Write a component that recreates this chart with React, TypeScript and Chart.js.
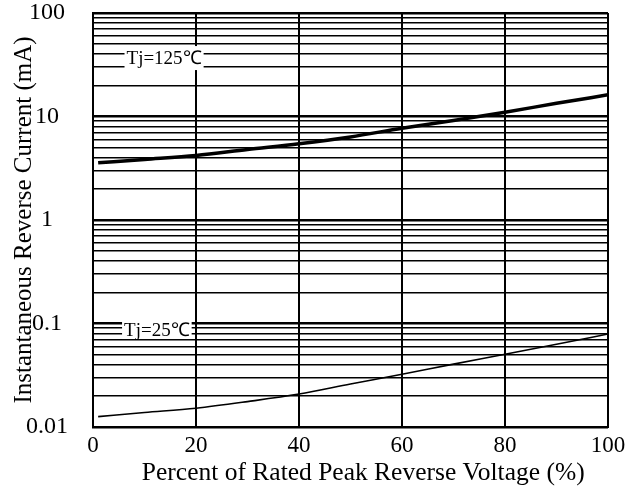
import React, { useEffect, useRef } from "react";
import { Chart, registerables } from "chart.js";

Chart.register(...registerables);

// ---- data ----
const xPercent = [1, 10, 20, 30, 40, 50, 60, 70, 80, 90, 100];
const current125 = [3.57, 3.85, 4.2, 4.8, 5.45, 6.35, 7.7, 9.15, 11.0, 13.4, 16.2];
const current25 = [0.0126, 0.0138, 0.0152, 0.0176, 0.0208, 0.026, 0.0323, 0.0405, 0.0504, 0.063, 0.0792];
const xTickValues = [0, 20, 40, 60, 80, 100];
const yDecades = [0.01, 0.1, 1, 10, 100];
const yMultipliers = [1, 2, 3, 4, 5, 6, 7, 8, 9];
const seriesNames = ["Tj=125℃", "Tj=25℃"];
const labelAnchorX = [13.8, 12.4];
const labelAnchorY = [36.7, 0.0865];

const xTitle = "Percent of Rated Peak Reverse Voltage (%)";
const yTitle = "Instantaneous Reverse Current (mA)";

const yGridValues: number[] = [];
yDecades.forEach((d) => {
  yMultipliers.forEach((m) => {
    const v = Number((d * m).toPrecision(3));
    if (v <= 100) yGridValues.push(v);
  });
});

const SERIF = '"Liberation Serif", "Times New Roman", Times, serif';

const labelBoxHeights = [24, 18];

const curveLabelPlugin = {
  id: "curveLabels",
  afterDatasetsDraw(chart: any) {
    const { ctx, scales } = chart;
    const xs = scales.x;
    const ys = scales.y;
    ctx.save();
    ctx.font = `19px ${SERIF}`;
    ctx.textAlign = "center";
    ctx.textBaseline = "middle";
    seriesNames.forEach((t, i) => {
      const px = xs.getPixelForValue(labelAnchorX[i]);
      const py = ys.getPixelForValue(labelAnchorY[i]);
      const w = ctx.measureText(t).width + 4;
      const h = labelBoxHeights[i];
      ctx.fillStyle = "#ffffff";
      ctx.fillRect(px - w / 2, py - h / 2, w, h);
      ctx.fillStyle = "#000000";
      ctx.fillText(t, px, py + 1);
    });
    ctx.restore();
  },
};

export default function App() {
  const canvasRef = useRef<HTMLCanvasElement | null>(null);

  useEffect(() => {
    const canvas = canvasRef.current;
    if (!canvas) return;
    const chart = new Chart(canvas, {
      type: "line",
      data: {
        datasets: [
          {
            label: seriesNames[0],
            data: xPercent.map((x, i) => ({ x, y: current125[i] })),
            borderColor: "#000000",
            borderWidth: 3.5,
            pointRadius: 0,
            tension: 0.4,
            cubicInterpolationMode: "monotone",
            fill: false,
          },
          {
            label: seriesNames[1],
            data: xPercent.map((x, i) => ({ x, y: current25[i] })),
            borderColor: "#000000",
            borderWidth: 1.6,
            pointRadius: 0,
            tension: 0.4,
            cubicInterpolationMode: "monotone",
            fill: false,
          },
        ],
      },
      options: {
        animation: false,
        responsive: true,
        maintainAspectRatio: false,
        layout: { padding: { top: 13, right: 25, left: 0, bottom: 0 } },
        plugins: {
          legend: { display: false },
          tooltip: { enabled: false },
        },
        scales: {
          x: {
            type: "linear",
            min: 0,
            max: 100,
            afterBuildTicks: (scale: any) => {
              scale.ticks = xTickValues.map((v) => ({ value: v }));
            },
            afterFit: (scale: any) => {
              scale.height = 63;
              scale.paddingLeft = 0;
              scale.paddingRight = 0;
            },
            grid: {
              color: "#000000",
              lineWidth: 2,
              drawTicks: false,
            },
            border: { display: true, color: "#000000", width: 2 },
            ticks: {
              color: "#000000",
              font: { family: SERIF, size: 23 },
              padding: 5,
              maxRotation: 0,
              autoSkip: false,
            },
            title: {
              display: true,
              text: "    " + xTitle,
              color: "#000000",
              font: { family: SERIF, size: 25.5 },
              padding: { top: 0, bottom: 1 },
            },
          },
          y: {
            type: "logarithmic",
            min: 0.01,
            max: 100,
            afterBuildTicks: (scale: any) => {
              scale.ticks = yGridValues.map((v) => ({ value: v, major: false }));
            },
            afterFit: (scale: any) => {
              scale.width = 93;
              scale.paddingTop = 0;
              scale.paddingBottom = 0;
            },
            grid: {
              color: "#000000",
              lineWidth: (ctx: any) =>
                ctx.tick && yDecades.includes(ctx.tick.value) ? 2.6 : 1.5,
              drawTicks: false,
            },
            border: { display: true, color: "#000000", width: 2 },
            ticks: {
              color: "#000000",
              font: { family: SERIF, size: 24 },
              padding: 25,
              crossAlign: "center",
              autoSkip: false,
              callback: (value: any) =>
                yDecades.includes(Number(value)) ? String(value) : "",
            },
            title: {
              display: true,
              text: yTitle,
              color: "#000000",
              font: { family: SERIF, size: 25 },
              padding: { top: 9, bottom: 0 },
            },
          },
        },
      },
      plugins: [curveLabelPlugin],
    } as any);
    return () => chart.destroy();
  }, []);

  return (
    <div
      style={{
        position: "fixed",
        left: 0,
        top: 0,
        width: 633,
        height: 490,
        background: "#ffffff",
      }}
    >
      <canvas ref={canvasRef} />
    </div>
  );
}
